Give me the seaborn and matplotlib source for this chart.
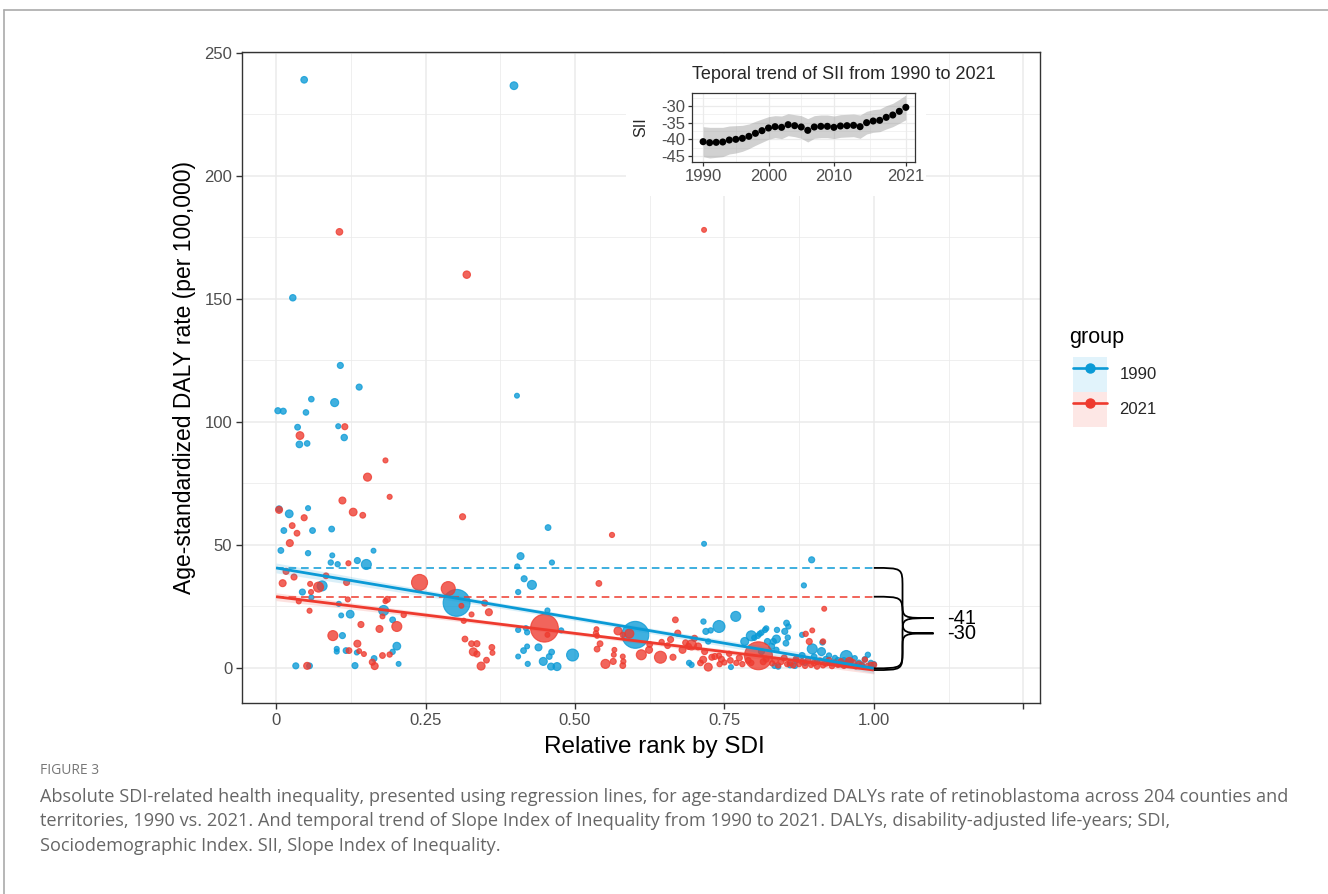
import matplotlib
matplotlib.use("Agg")
import matplotlib.pyplot as plt
import seaborn as sns
import numpy as np
import pandas as pd
from matplotlib.path import Path
from matplotlib.patches import PathPatch, Rectangle
from matplotlib.lines import Line2D
from matplotlib.legend_handler import HandlerTuple

# ---------------- data ----------------
groups = ["1990", "2021"]

rank_1990 = [0.047, 0.398, 0.028, 0.003, 0.012, 0.036, 0.039, 0.052, 0.050, 0.059, 0.098, 0.1075, 0.139, 0.104, 0.114, 0.403,
             0.005, 0.022, 0.0535, 0.013, 0.061, 0.093, 0.008, 0.0535, 0.094, 0.0915, 0.103, 0.136, 0.151, 0.163, 0.077, 0.044,
             0.059, 0.105, 0.180, 0.109, 0.124, 0.195, 0.111, 0.1015, 0.1015, 0.117, 0.135, 0.164, 0.132, 0.033, 0.056, 0.195,
             0.202, 0.205, 0.302, 0.409, 0.455, 0.4615, 0.4035, 0.415, 0.428, 0.405, 0.454, 0.477, 0.405, 0.418, 0.420, 0.414,
             0.420, 0.439, 0.405, 0.461, 0.457, 0.447, 0.421, 0.460, 0.470, 0.496, 0.601, 0.691, 0.716, 0.715, 0.719, 0.727,
             0.741, 0.723, 0.695, 0.761, 0.769, 0.812, 0.784, 0.795, 0.809, 0.818, 0.822, 0.832, 0.837, 0.829, 0.854, 0.857,
             0.851, 0.856, 0.853, 0.838, 0.837, 0.812, 0.834, 0.840, 0.860, 0.868, 0.883, 0.896, 0.897, 0.9125, 0.954, 0.985,
             0.990, 0.995, 0.800, 0.806, 0.812, 0.820, 0.880, 0.914, 0.968, 0.900, 0.920, 0.930, 0.940, 0.945, 0.960, 0.975,
             1.000, 0.870, 0.880, 0.885, 0.905, 0.935, 0.980, 0.925, 0.950]
rate_1990 = [239.0, 236.6, 150.4, 104.5, 104.3, 97.8, 90.8, 91.2, 103.8, 109.2, 107.8, 122.9, 114.1, 98.2, 93.6, 110.6,
             64.6, 62.6, 64.9, 55.8, 55.8, 56.4, 47.7, 46.6, 45.7, 42.8, 42.1, 43.6, 42.0, 47.6, 33.3, 30.8,
             28.6, 26.0, 23.3, 21.3, 21.8, 19.5, 13.1, 7.7, 6.6, 7.0, 6.2, 3.8, 0.9, 0.8, 0.8, 6.5,
             8.8, 1.6, 26.4, 45.4, 57.0, 42.8, 41.2, 36.2, 33.7, 30.8, 23.3, 15.2, 15.4, 16.1, 14.4, 7.0,
             8.7, 8.3, 4.6, 6.4, 4.6, 2.6, 1.6, 0.5, 0.5, 5.2, 13.4, 2.0, 50.4, 18.8, 14.8, 15.2,
             16.8, 10.7, 1.2, 0.3, 20.9, 23.9, 10.7, 13.0, 13.8, 15.4, 10.7, 10.7, 11.7, 8.7, 18.2, 16.8,
             14.8, 12.3, 10.0, 15.4, 7.3, 6.6, 0.8, 0.5, 1.2, 0.8, 33.5, 43.9, 7.7, 6.6, 4.6, 3.5,
             5.3, 2.0, 12.2, 13.0, 14.3, 16.0, 13.4, 10.3, 3.9, 4.5, 3.5, 2.0, 3.0, 1.5, 2.5, 2.0,
             1.5, 3.0, 5.0, 2.0, 2.5, 4.0, 1.2, 5.0, 3.0]
pop_1990 = [10, 25, 8, 5, 5, 3, 10, 2, 2, 2, 30, 5, 5, 0.3, 8, 0.1,
            5, 25, 0.3, 3, 3, 3, 3, 1, 0.2, 1, 1, 5, 75, 0.1, 75, 5,
            0.5, 0.3, 75, 0.1, 25, 3, 5, 0.3, 0.3, 3, 0.1, 3, 5, 5, 3, 1,
            25, 0.1, 1300, 14, 3, 0.5, 0.5, 5, 50, 0.5, 0.5, 0.5, 0.5, 0.5, 0.5, 3,
            0.1, 14, 0.1, 3, 3, 29, 0.5, 14, 29, 140, 1300, 1, 0.1, 1, 5, 1,
            140, 1, 1, 0.2, 75, 5, 29, 75, 1, 1, 5, 5, 29, 5, 3, 1,
            5, 1, 3, 1, 1, 5, 1, 1, 5, 1, 0.5, 5, 75, 29, 140, 1,
            1, 1, 1, 1, 1, 1, 0.5, 1, 1, 3, 3, 3, 5, 1, 5, 3,
            1, 3, 5, 1, 1, 1, 1, 1, 3]

rank_2021 = [0.106, 0.319, 0.716, 0.040, 0.115, 0.183, 0.153, 0.190, 0.111, 0.129, 0.145, 0.312, 0.005, 0.047, 0.027, 0.035,
             0.023, 0.121, 0.0167, 0.011, 0.030, 0.0836, 0.071, 0.057, 0.118, 0.0585, 0.038, 0.056, 0.120, 0.186, 0.183, 0.142,
             0.173, 0.202, 0.2135, 0.178, 0.095, 0.136, 0.122, 0.139, 0.147, 0.161, 0.165, 0.052, 0.178, 0.190, 0.240, 0.288,
             0.310, 0.327, 0.314, 0.349, 0.356, 0.316, 0.327, 0.336, 0.330, 0.336, 0.361, 0.362, 0.352, 0.343, 0.449, 0.454,
             0.562, 0.540, 0.536, 0.535, 0.537, 0.542, 0.537, 0.566, 0.565, 0.580, 0.581, 0.580, 0.551, 0.564, 0.572, 0.591,
             0.580, 0.611, 0.624, 0.643, 0.664, 0.668, 0.672, 0.680, 0.690, 0.695, 0.706, 0.717, 0.7145, 0.723, 0.729, 0.734,
             0.741, 0.742, 0.758, 0.807, 0.917, 0.886, 0.897, 0.892, 0.915, 0.959, 0.985, 0.995, 0.760, 0.770, 0.775, 0.780,
             0.790, 0.795, 0.815, 0.820, 0.830, 0.835, 0.840, 0.845, 0.850, 0.855, 0.860, 0.865, 0.870, 0.875, 0.880, 0.885,
             0.890, 0.895, 0.900, 0.905, 0.910, 0.915, 0.920, 0.925, 0.930, 0.935, 0.940, 0.945, 0.950, 0.955, 0.965, 0.970,
             0.975, 0.980, 0.990, 1.000, 0.655, 0.660, 0.685, 0.700, 0.710, 0.745, 0.750, 0.625, 0.645]
rate_2021 = [177.2, 159.8, 178.0, 94.4, 98.0, 84.3, 77.5, 69.5, 68.0, 63.3, 62.0, 61.4, 64.2, 61.0, 57.8, 54.7,
             50.7, 42.5, 39.2, 34.4, 36.9, 37.4, 32.8, 34.1, 34.7, 30.8, 27.0, 23.2, 27.8, 27.8, 27.1, 17.6,
             15.8, 16.8, 21.5, 20.9, 13.1, 9.8, 7.0, 6.8, 5.6, 2.3, 0.7, 0.8, 5.0, 5.4, 34.7, 32.2,
             25.2, 21.7, 19.1, 26.3, 22.6, 11.7, 9.8, 9.8, 6.5, 5.6, 8.3, 6.1, 3.1, 0.7, 16.1, 13.4,
             54.0, 34.3, 15.7, 14.1, 13.0, 9.8, 7.6, 7.3, 5.3, 4.6, 2.6, 0.9, 1.6, 2.6, 15.0, 13.9,
             13.4, 5.3, 7.3, 4.3, 4.3, 19.5, 14.1, 7.3, 8.7, 9.3, 8.7, 6.6, 3.3, 0.3, 4.3, 4.6,
             4.9, 1.5, 5.7, 4.9, 24.0, 13.8, 15.2, 10.7, 10.7, 2.6, 3.3, 1.2, 3.0, 2.0, 4.0, 1.5,
             3.0, 2.0, 2.5, 3.5, 1.8, 3.0, 1.0, 2.5, 4.0, 1.5, 2.0, 1.0, 3.5, 1.5, 2.5, 0.8,
             3.0, 1.2, 2.0, 0.5, 2.8, 1.0, 1.8, 3.0, 0.7, 2.0, 1.2, 2.5, 0.8, 1.8, 2.2, 0.6,
             1.5, 1.0, 0.8, 1.2, 9.0, 11.5, 10.2, 12.0, 2.0, 3.5, 2.2, 9.5, 10.5]
pop_2021 = [10, 20, 0.1, 25, 5, 0.3, 30, 0.3, 14, 25, 3, 5, 14, 5, 3, 3,
            14, 0.3, 5, 14, 5, 3, 75, 0.3, 5, 0.3, 0.3, 0.3, 0.3, 5, 0.3, 5,
            14, 75, 1, 0.2, 75, 14, 3, 0.1, 0.1, 5, 14, 14, 3, 1, 340, 230,
            0.1, 0.3, 0.5, 5, 14, 3, 3, 5, 29, 5, 3, 0.2, 3, 29, 1400, 0.1,
            0.5, 3, 0.1, 0.5, 0.1, 3, 3, 0.1, 0.1, 0.1, 0.5, 3, 50, 5, 29, 50,
            1, 75, 14, 140, 5, 3, 5, 14, 5, 75, 14, 5, 14, 29, 5, 5,
            1, 1, 1, 1425, 0.1, 1, 0.1, 5, 1, 29, 1, 1, 3, 1, 5, 1,
            3, 1, 5, 3, 1, 5, 1, 3, 5, 1, 3, 1, 5, 1, 3, 1,
            5, 1, 3, 1, 5, 1, 3, 5, 1, 3, 1, 5, 1, 3, 3, 1,
            3, 1, 1, 3, 3, 5, 3, 5, 3, 5, 1, 3, 1]

# regression (slope index of inequality) per group
intercepts = [40.6, 28.9]
slopes = [-40.8, -29.8]
ci_center = [1.0, 0.8]

# inset: temporal trend of SII
years = list(range(1990, 2022))
sii = [-40.7, -41.0, -40.9, -40.8, -40.2, -40.0, -39.7, -39.1, -38.2, -37.4, -36.6, -36.2, -36.4, -35.6, -35.9, -36.3,
       -37.3, -36.3, -36.1, -36.1, -36.4, -36.0, -35.9, -35.8, -36.2, -35.0, -34.5, -34.3, -33.4, -32.7, -31.6, -30.4]
sii_upper = [-36.2, -36.4, -36.4, -36.4, -36.0, -35.9, -35.8, -35.4, -34.6, -33.9, -33.2, -32.9, -33.0, -32.3, -32.6, -32.9,
             -33.8, -32.9, -32.7, -32.7, -33.0, -32.6, -32.5, -32.4, -32.7, -31.6, -31.1, -30.9, -29.9, -29.2, -28.0, -26.7]
sii_lower = [-45.2, -45.6, -45.4, -45.2, -44.4, -44.1, -43.6, -42.8, -41.8, -40.9, -40.0, -39.5, -39.8, -38.9, -39.2, -39.7,
             -40.8, -39.7, -39.5, -39.5, -39.8, -39.4, -39.3, -39.2, -39.7, -38.4, -37.9, -37.7, -36.9, -36.2, -35.2, -34.1]

x_ticks = [0, 0.25, 0.5, 0.75, 1.0, 1.25]
x_ticklabels = ["0", "0.25", "0.50", "0.75", "1.00", ""]
y_ticks = [0, 50, 100, 150, 200, 250]
inset_xticks = [1990, 2000, 2010, 2021]
inset_yticks = [-30, -35, -40, -45]

caption_head = "FIGURE 3"
caption_lines = [
    "Absolute SDI-related health inequality, presented using regression lines, for age-standardized DALYs rate of retinoblastoma across 204 counties and",
    "territories, 1990 vs. 2021. And temporal trend of Slope Index of Inequality from 1990 to 2021. DALYs, disability-adjusted life-years; SDI,",
    "Sociodemographic Index. SII, Slope Index of Inequality.",
]

# ---------------- style ----------------
sns.set_theme(style="ticks")
plt.rcParams["font.family"] = ["Liberation Sans", "DejaVu Sans"]
plt.rcParams["axes.unicode_minus"] = False
colors = {"1990": "#0A9AD6", "2021": "#EE3A2E"}
key_bg = {"1990": "#E1F3FB", "2021": "#FDE7E5"}
grid_c = "#EBEBEB"
dark = "#333333"
tick_c = "#4D4D4D"

W, H = 1328, 894
fig = plt.figure(figsize=(W / 100, H / 100), dpi=100)
ax = fig.add_axes([242 / W, 1 - 703 / H, (1040 - 242) / W, (703 - 52) / H])

df = pd.concat([
    pd.DataFrame({"rank": rank_1990, "rate": rate_1990, "pop": pop_1990, "group": "1990"}),
    pd.DataFrame({"rank": rank_2021, "rate": rate_2021, "pop": pop_2021, "group": "2021"}),
], ignore_index=True)
pmax = df["pop"].max()
df["dsq"] = (1 + 5 * np.sqrt(df["pop"] / pmax)) ** 2

sns.scatterplot(data=df, x="rank", y="rate", hue="group", hue_order=groups, palette=colors,
                size="dsq", sizes=(11.3, 406), size_norm=(1, 36), alpha=0.78,
                edgecolor="face", linewidth=0.8, legend=False, ax=ax, zorder=3)

xs = np.linspace(0, 1, 60)
for g, b0, b1, cc in zip(groups[::-1], intercepts[::-1], slopes[::-1], ci_center[::-1]):
    c = colors[g]
    ys = b0 + b1 * xs
    hw = cc * np.sqrt(1 + 12 * (xs - 0.5) ** 2)
    ax.fill_between(xs, ys - hw, ys + hw, color=c, alpha=0.15, lw=0, zorder=4)
    ax.plot(xs, ys, color=c, lw=2.0, zorder=5, solid_capstyle="butt")
    ax.hlines(b0, 0, 1, colors=c, linestyles=(0, (5, 3.2)), lw=1.1, zorder=4)


def brace(ax_, x0, xv, xtip, ytop, ybot, r1, r2):
    ym = (ytop + ybot) / 2
    verts = [(x0, ytop), (xv, ytop), (xv, ytop), (xv, ytop - r1),
             (xv, ym + r2),
             (xv, ym), (xv, ym), (xtip, ym),
             (xv, ym), (xv, ym), (xv, ym - r2),
             (xv, ybot + r1),
             (xv, ybot), (xv, ybot), (x0, ybot)]
    codes = [Path.MOVETO, Path.CURVE4, Path.CURVE4, Path.CURVE4,
             Path.LINETO,
             Path.CURVE4, Path.CURVE4, Path.CURVE4,
             Path.CURVE4, Path.CURVE4, Path.CURVE4,
             Path.LINETO,
             Path.CURVE4, Path.CURVE4, Path.CURVE4]
    ax_.add_patch(PathPatch(Path(verts, codes), facecolor="none", edgecolor="black",
                            lw=1.3, zorder=6, clip_on=False))
    return ym


mids = [brace(ax, 1.0, 1.048, 1.100, b0, b0 + b1, 8.0, 6.0) for b0, b1 in zip(intercepts, slopes)]
ax.text(1.122, np.mean(mids), "\n".join(f"{round(b1)}" for b1 in slopes), fontsize=14.5,
        va="center", ha="left", color="black", linespacing=0.72, zorder=6)

ax.set_xlim(-0.057, 1.278)
ax.set_ylim(-14.3, 250.3)
ax.set_xticks(x_ticks)
ax.set_xticklabels(x_ticklabels)
ax.set_xticks([0.125, 0.375, 0.625, 0.875, 1.125], minor=True)
ax.set_yticks(y_ticks)
ax.set_yticks([25, 75, 125, 175, 225], minor=True)
ax.grid(which="major", color=grid_c, lw=1.1)
ax.grid(which="minor", color=grid_c, lw=0.55)
ax.set_axisbelow(True)
for s in ax.spines.values():
    s.set_color(dark)
    s.set_linewidth(1.0)
    s.set_visible(True)
ax.tick_params(which="major", length=4, width=1, color=dark, labelsize=12, labelcolor=tick_c,
               direction="out", pad=3, bottom=True, left=True)
ax.tick_params(which="minor", length=0)
ax.set_xlabel("Relative rank by SDI", fontsize=17.5, color="black")
ax.xaxis.set_label_coords((654 - 242) / (1040 - 242), -0.050)
ax.xaxis.label.set_va("top")
ax.set_ylabel("Age-standardized DALY rate (per 100,000)", fontsize=16.5, labelpad=6, color="black")

# inset background (covers main grid)
ax.add_patch(Rectangle((626 / W, 1 - 196 / H), (926 - 626) / W, (196 - 54) / H, transform=fig.transFigure,
                       facecolor="white", edgecolor="none", zorder=8, clip_on=False))

axin = fig.add_axes([692 / W, 1 - 162 / H, (915 - 692) / W, (162 - 93) / H])
axin.fill_between(years, sii_lower, sii_upper, color="#9A9A9A", alpha=0.45, lw=0, zorder=2)
sns.scatterplot(x=years, y=sii, color="black", s=26, edgecolor="none", ax=axin, zorder=3, legend=False)
axin.set_xlim(1988.3, 2022.4)
axin.set_ylim(-46.8, -26.1)
axin.set_xticks(inset_xticks)
axin.set_xticks([1995, 2005, 2015.5], minor=True)
axin.set_yticks(inset_yticks)
axin.set_yticks([-27.5, -32.5, -37.5, -42.5], minor=True)
axin.grid(which="major", color=grid_c, lw=0.9)
axin.grid(which="minor", color=grid_c, lw=0.45)
axin.set_axisbelow(True)
for s in axin.spines.values():
    s.set_color(dark)
    s.set_linewidth(0.9)
    s.set_visible(True)
axin.tick_params(which="major", length=3, width=0.9, color=dark, labelsize=12, labelcolor=tick_c,
                 pad=2, bottom=True, left=True)
axin.tick_params(which="minor", length=0)
axin.set_xlabel("")
axin.set_ylabel("SII", fontsize=11.5, labelpad=9)
axin.set_title("Teporal trend of SII from 1990 to 2021", loc="left", fontsize=13, pad=10)

# legend
handles = [(Rectangle((0, 0), 1, 1, facecolor=key_bg[g], edgecolor="none"),
            Line2D([], [], color=colors[g], lw=1.9, marker="o", markersize=6.5)) for g in groups]
fig.legend(handles, groups, handler_map={tuple: HandlerTuple(ndivide=1, pad=0)},
           loc="upper left", bbox_to_anchor=(1073 / W, 1 - 357 / H), frameon=False,
           fontsize=12, handlelength=2.04, handleheight=2.85,
           labelspacing=0, handletextpad=0.75, borderpad=0, borderaxespad=0)
fig.text(1069 / W, 1 - 338 / H, "group", fontsize=15.5, va="center", ha="left", color="black")

# caption
fig.text(40 / W, 1 - 770 / H, caption_head, fontsize=10, color="#777777", family="Open Sans", va="center")
for i, line in enumerate(caption_lines):
    fig.text(40 / W, 1 - (797 + 24.5 * i) / H, line, fontsize=13.1, color="#666666", family="Open Sans", va="center")

# outer frame
fig.add_artist(Line2D([4 / W, 4 / W], [0, 1 - 10 / H], transform=fig.transFigure, color="#AAAAAA", lw=1.2))
fig.add_artist(Line2D([4 / W, 1], [1 - 10 / H, 1 - 10 / H], transform=fig.transFigure, color="#AAAAAA", lw=1.2))

fig.savefig("out.png", dpi=100)
